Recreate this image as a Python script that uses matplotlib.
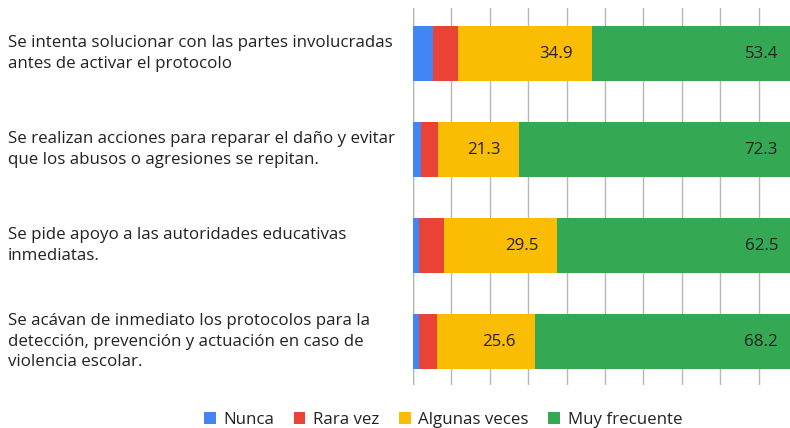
import matplotlib
matplotlib.use("Agg")
import matplotlib.pyplot as plt
import matplotlib.transforms as mtransforms
from matplotlib.patches import Patch

categories = [
    "Se intenta solucionar con las partes involucradas\nantes de activar el protocolo",
    "Se realizan acciones para reparar el daño y evitar\nque los abusos o agresiones se repitan.",
    "Se pide apoyo a las autoridades educativas\ninmediatas.",
    "Se acávan de inmediato los protocolos para la\ndetección, prevención y actuación en caso de\nviolencia escolar.",
]
series_names = ["Nunca", "Rara vez", "Algunas veces", "Muy frecuente"]
nunca = [5.2, 2.0, 1.6, 1.6]
rara_vez = [6.5, 4.4, 6.4, 4.6]
algunas_veces = [34.9, 21.3, 29.5, 25.6]
muy_frecuente = [53.4, 72.3, 62.5, 68.2]

colors = ["#4285f4", "#ea4335", "#fbbc04", "#34a853"]
labeled = [False, False, True, True]

plt.rcParams['font.family'] = ['Open Sans', 'DejaVu Sans']
FS = 12.2

fig = plt.figure(figsize=(7.9, 4.28), dpi=100)
# axes runs a little past the right edge of the figure, like the original crop
ax = fig.add_axes([413 / 790, 43 / 428, 384 / 790, 377 / 428])

ypos = list(range(len(categories)))
left = [0.0] * len(categories)
for name, vals, col, lab in zip(series_names,
                                [nunca, rara_vez, algunas_veces, muy_frecuente],
                                colors, labeled):
    ax.barh(ypos, vals, left=left, height=0.57, color=col, zorder=2, label=name)
    if lab:
        for y, l, v in zip(ypos, left, vals):
            ax.annotate(f"{v:.1f}", xy=(l + v, y), xytext=(-19, 0),
                        textcoords="offset pixels", ha="right", va="center",
                        fontsize=FS, color="#222222", zorder=3)
    left = [a + b for a, b in zip(left, vals)]

ax.set_xlim(0, 100)
ax.set_ylim(3.453, -0.474)
ax.set_xticks(range(0, 101, 10))
ax.set_yticks([])
ax.tick_params(axis="x", length=0, labelbottom=False)
ax.grid(True, axis="x", color="#b7b7b7", linewidth=1.0, zorder=0)
for s in ax.spines.values():
    s.set_visible(False)
ax.axvline(0, color="#a8a8a8", linewidth=1.0, zorder=1)

# category labels, left aligned at the figure edge
trans = mtransforms.blended_transform_factory(fig.transFigure, ax.transData)
for y, txt in zip(ypos, categories):
    ax.text(8 / 790, y, txt, transform=trans, ha="left", va="center",
            fontsize=FS, color="#222222", linespacing=1.38)

handles = [Patch(facecolor=c, label=n) for c, n in zip(colors, series_names)]
fig.legend(handles=handles, loc="center", bbox_to_anchor=(443 / 790, 8 / 428),
           ncol=4, frameon=False, fontsize=FS, handlelength=0.7,
           handleheight=0.7, handletextpad=0.45, columnspacing=1.15,
           labelcolor="#222222")

fig.savefig("out.png", dpi=100)
